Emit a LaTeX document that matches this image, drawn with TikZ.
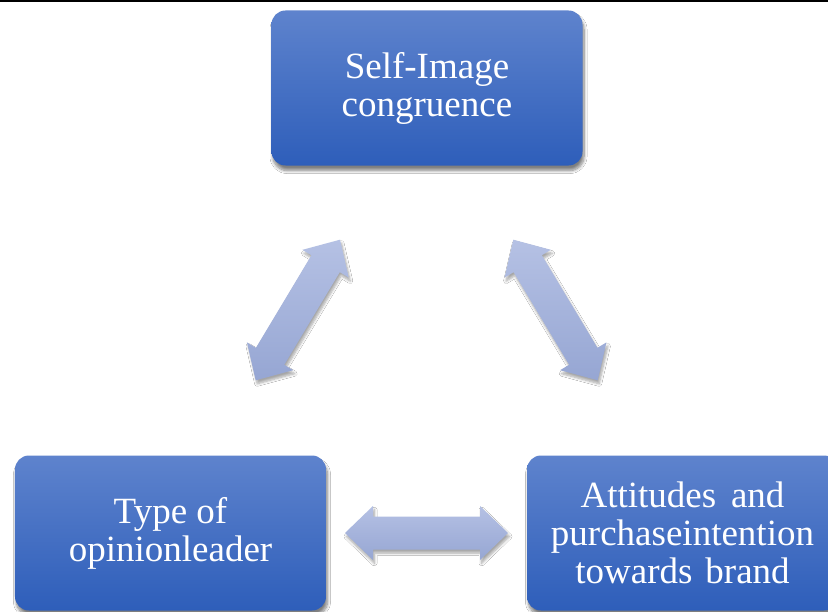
\documentclass[tikz,border=0pt]{standalone}
\usepackage{fontspec}
\setmainfont{Liberation Serif}
\usetikzlibrary{calc,shadows.blur}
\definecolor{boxtop}{RGB}{94,131,205}
\definecolor{boxbot}{RGB}{46,94,186}
\definecolor{arrtop}{RGB}{181,193,228}
\definecolor{arrbot}{RGB}{150,166,211}
\tikzset{
  blockbox/.style={rectangle, rounded corners=14bp, minimum width=311bp,
    minimum height=155bp, inner sep=0pt, top color=boxtop, bottom color=boxbot,
    draw=none, text=white, align=center,
    font=\fontsize{37bp}{38bp}\selectfont,
    blur shadow={shadow xshift=1.5bp, shadow yshift=-5bp, shadow blur radius=3bp,
      shadow blur steps=8, shadow opacity=50}},
  blockarrow/.style={top color=arrtop, bottom color=arrbot, draw=none,
    blur shadow={shadow xshift=1.5bp, shadow yshift=-3.5bp, shadow blur radius=2.5bp,
      shadow blur steps=6, shadow opacity=35}}
}
\newcommand\blockdbl[2]{%
  \path[blockarrow] (#1)
    -- ($(#1)!28bp!(#2)!27bp!90:(#2)$)
    -- ($(#1)!28bp!(#2)!16.5bp!90:(#2)$)
    -- ($(#2)!28bp!(#1)!16.5bp!-90:(#1)$)
    -- ($(#2)!28bp!(#1)!27bp!-90:(#1)$)
    -- (#2)
    -- ($(#2)!28bp!(#1)!27bp!90:(#1)$)
    -- ($(#2)!28bp!(#1)!16.5bp!90:(#1)$)
    -- ($(#1)!28bp!(#2)!16.5bp!-90:(#2)$)
    -- ($(#1)!28bp!(#2)!27bp!-90:(#2)$)
    -- cycle;}
\begin{document}
\begin{tikzpicture}[x=1bp,y=-1bp]
  \useasboundingbox (0,0) rectangle (828,612);
  \clip (0,0) rectangle (828,612);
  \fill[white] (0,0) rectangle (828,612);
  \fill[black] (0,0) rectangle (828,2.2);

  \node[blockbox] (self) at (427,88) {Self-Image\\congruence};
  \node[blockbox] (type) at (170.5,533) {Type of\\opinionleader};
  \node[blockbox] (att) at (682.5,533) {Attitudes\hspace{0.15em} and\\purchaseintention\\towards\hspace{0.1em} brand};

  \coordinate (l1) at (255.7,380.3);
  \coordinate (l2) at (340,239.7);
  \coordinate (r1) at (513.3,239.7);
  \coordinate (r2) at (597.7,380.3);
  \coordinate (h1) at (345,533);
  \coordinate (h2) at (508,533);

  \blockdbl{l1}{l2}
  \blockdbl{r1}{r2}
  \blockdbl{h1}{h2}
\end{tikzpicture}
\end{document}
